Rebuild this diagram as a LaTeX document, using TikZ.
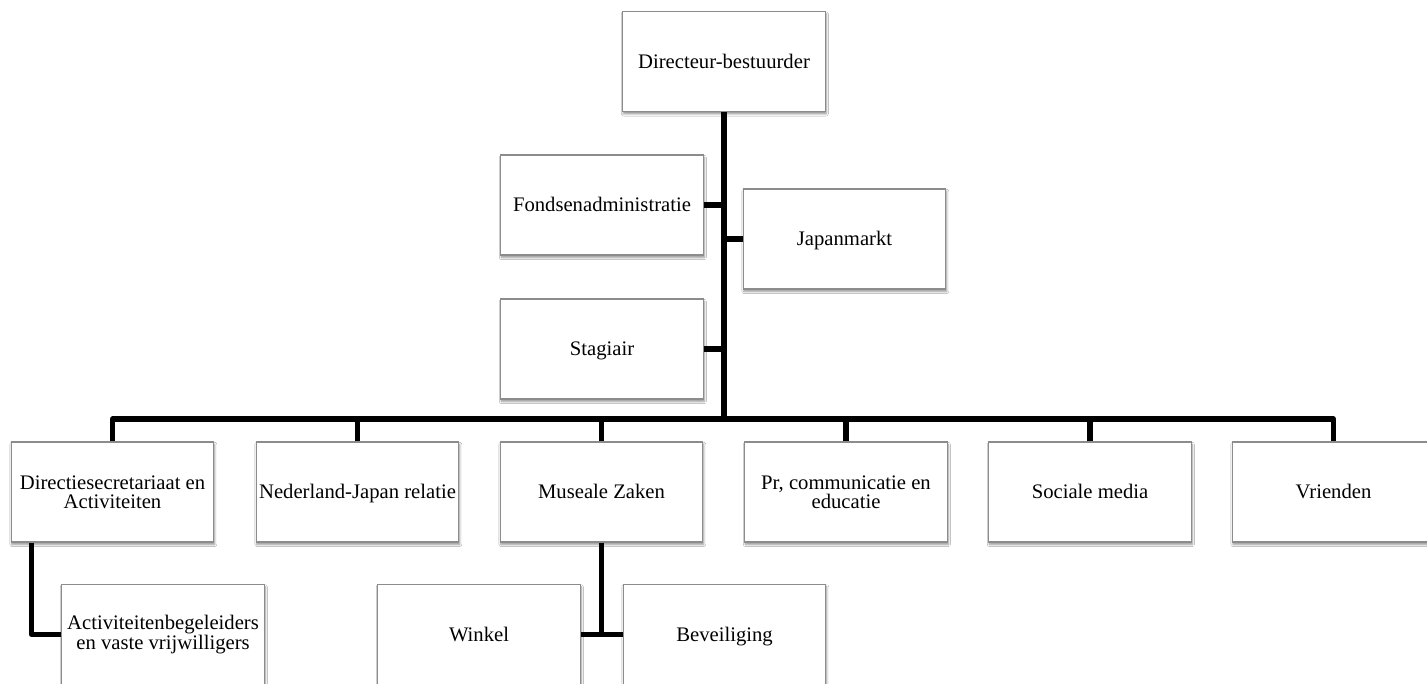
\documentclass[tikz,border=0pt]{standalone}
\usepackage{fontspec}
\setmainfont{Liberation Serif}
\usetikzlibrary{shadows.blur}
\begin{document}
\begin{tikzpicture}[x=0.75pt,y=-0.75pt,
  orgbox/.style={draw=black!45, line width=0.8pt, fill=white, minimum width=152pt, minimum height=75pt,
    align=center, inner sep=2pt, font=\fontsize{15.5}{14}\selectfont,
    blur shadow={shadow xshift=0.6pt, shadow yshift=-1.8pt, shadow blur steps=6, shadow blur radius=1.6pt, shadow opacity=45}},
  oneline/.style={text height=12pt, text depth=2pt},
  conn/.style={line width=4pt, line join=round, black}]
\useasboundingbox (0,0) rectangle (1427,684);
\clip (0,0) rectangle (1427,684);
\fill[white] (0,0) rectangle (1427,684);
\coordinate (bus) at (723.5,419);
\node[orgbox,oneline] (dir) at (724,61.5) {Directeur-bestuurder};
\node[orgbox,oneline] (fonds) at (602,205) {Fondsenadministratie};
\node[orgbox,oneline] (japan) at (844.5,239) {Japanmarkt};
\node[orgbox,oneline] (stag) at (602,349) {Stagiair};
\node[orgbox] (r1) at (112.5,492) {Directiesecretariaat en\\Activiteiten};
\node[orgbox,oneline] (r2) at (357.5,492) {Nederland-Japan relatie};
\node[orgbox,oneline] (r3) at (601.5,492) {Museale Zaken};
\node[orgbox] (r4) at (846,492) {Pr, communicatie en\\educatie};
\node[orgbox,oneline] (r5) at (1090,492) {Sociale media};
\node[orgbox,oneline] (r6) at (1333.5,492) {Vrienden};
\node[orgbox] (act) at (163,634.5) {Activiteitenbegeleiders\\en vaste vrijwilligers};
\node[orgbox,oneline] (win) at (479,634.5) {Winkel};
\node[orgbox,oneline] (bev) at (724.5,634.5) {Beveiliging};
\draw[conn] (dir.south) -- (dir.south |- bus);
\draw[conn] (r1.north) |- (r6.north |- bus) -- (r6.north);
\foreach \n in {r2,r3,r4,r5}{\draw[conn] (\n.north) -- (\n.north |- bus);}
\draw[conn] (fonds.east) -- (fonds.east -| dir.south);
\draw[conn] (japan.west) -- (japan.west -| dir.south);
\draw[conn] (stag.east) -- (stag.east -| dir.south);
\draw[conn] ([xshift=15.75pt]r1.south west) |- (act.west);
\draw[conn] (r3.south) |- (win.east);
\draw[conn] (r3.south) |- (bev.west);
\end{tikzpicture}
\end{document}
